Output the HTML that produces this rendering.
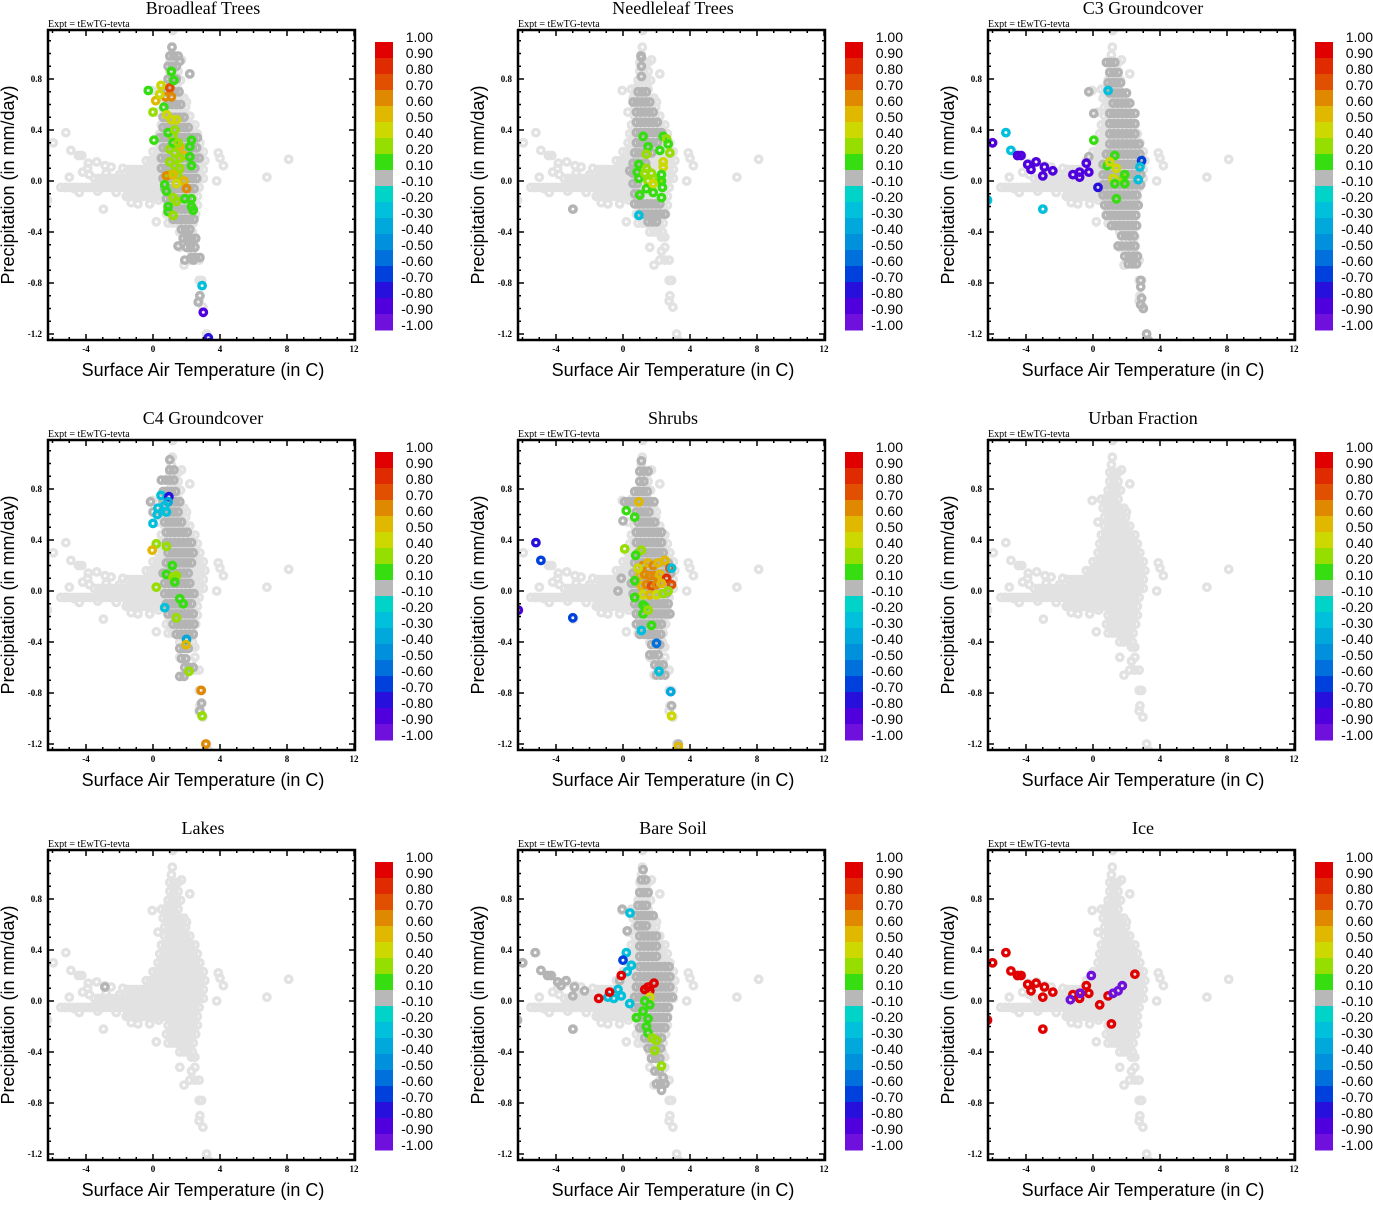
<!DOCTYPE html>
<html><head><meta charset="utf-8">
<style>
body{margin:0;background:#fff;width:1373px;height:1200px;overflow:hidden;position:relative}
svg.panel{position:absolute;overflow:visible}
.ttl{font-family:"Liberation Serif",serif;font-size:18px;text-anchor:middle}
.expt{font-family:"Liberation Serif",serif;font-size:10px}
.tk{font-family:"Liberation Serif",serif;font-size:9px;font-weight:bold}
.axt{font-family:"Liberation Sans",sans-serif;font-size:18px;text-anchor:middle}
.cbl{font-family:"Liberation Sans",sans-serif;font-size:14px;text-anchor:end}
</style></head><body>
<script>
// ---- shared axis / colour data ----
const xTicks=[-4,0,4,8,12];
const yTicks=[0.8,0.4,0.0,-0.4,-0.8,-1.2];
const cbLabels=["1.00","0.90","0.80","0.70","0.60","0.50","0.40","0.20","0.10","-0.10","-0.20","-0.30","-0.40","-0.50","-0.60","-0.70","-0.80","-0.90","-1.00"];
const cbBounds=[1,0.9,0.8,0.7,0.6,0.5,0.4,0.2,0.1,-0.1,-0.2,-0.3,-0.4,-0.5,-0.6,-0.7,-0.8,-0.9,-1.0];
const cbColors=["#e00000","#e02a00","#e05000","#e08800","#e0b800","#cdd800","#96dd00","#36dd10","#b8b8b8","#00d4c8","#00c0dc","#00a8dc","#0090dc","#0070dc","#0040dc","#2810dc","#5000dc","#7010dc"];
const titles=["Broadleaf Trees","Needleleaf Trees","C3 Groundcover","C4 Groundcover","Shrubs","Urban Fraction","Lakes","Bare Soil","Ice"];
// ---- background (light) cloud: rows [P, Tmin, Tmax] + outliers [T,P] ----
const baseRows=[[1.05,1.15,1.15],[0.99,1.1,1.1],[0.93,1.0,1.7],[0.86,1.0,1.5],[0.79,0.9,1.8],[0.72,0.5,1.6],[0.65,0.6,2.0],[0.58,0.7,2.0],[0.51,0.7,2.3],[0.44,0.5,2.6],[0.37,0.4,2.7],[0.30,0.3,2.9],[0.23,0.0,3.0],[0.16,-0.4,3.1],[0.09,-1.5,3.2],[0.02,-3.5,3.0],[-0.05,-5.5,2.8],[-0.12,-1.6,2.8],[-0.19,0.9,2.7],[-0.26,0.8,2.7],[-0.33,0.9,2.6],[-0.40,1.6,2.4]];
const basePts=[[1.17,1.18],[1.7,0.95],[2.2,0.84],[-0.05,0.71],[0.9,0.75],[2.0,0.62],[0.3,0.54],[-5.2,0.38],[-5.95,0.30],[-4.9,0.24],[-4.45,0.2],[-4.25,0.2],[-3.86,0.14],[-3.36,0.15],[-2.86,0.12],[-4.2,0.07],[-5.0,0.03],[3.9,0.22],[4.0,0.18],[4.2,0.12],[3.8,0.0],[6.8,0.03],[8.1,0.17],[-6.3,-0.15],[-2.96,-0.22],[-1.3,-0.17],[-0.9,-0.18],[-0.2,-0.18],[0.2,-0.32],[0.34,-0.15],[2.0,-0.39],[1.6,-0.52],[2.3,-0.44],[2.5,-0.44],[2.5,-0.52],[2.3,-0.55],[1.85,-0.66],[2.2,-0.62],[2.5,-0.62],[2.75,-0.62],[2.76,-0.78],[2.9,-0.78],[2.8,-0.9],[2.75,-0.94],[2.98,-0.99],[3.2,-1.2],[3.3,-1.25],[-5.25,-0.05],[-4.7,-0.06],[-3.9,0.1],[-2.5,0.11],[-1.8,0.1],[-4.4,-0.09],[-3.3,-0.08],[-2.2,-0.09],[-1.5,-0.1],[-3.8,0.05],[-2.8,0.06],[-2.0,0.05]];
// ---- per-panel dark gray rows [P,Tmin,Tmax] and points [T,P] ----
const darkRows=[
[[0.98,1.0,1.6],[0.9,0.9,1.4],[0.8,0.9,1.5],[0.7,0.8,1.7],[0.6,0.9,1.8],[0.5,0.6,2.0],[0.42,0.6,2.3],[0.34,0.4,2.7],[0.26,0.6,2.8],[0.18,0.5,2.9],[0.1,0.5,2.7],[0.02,0.6,2.6],[-0.06,0.7,2.6],[-0.14,0.8,2.5],[-0.22,0.9,2.5],[-0.3,1.2,2.5],[-0.38,1.7,2.4],[-0.45,1.8,2.6],[-0.52,2.0,2.5],[-0.6,2.3,2.8]],
[[0.97,1.1,1.1],[0.9,1.1,1.3],[0.82,1.1,1.3],[0.7,0.9,1.4],[0.62,0.6,1.7],[0.54,0.8,1.8],[0.46,0.8,2.1],[0.38,0.8,2.3],[0.3,0.8,2.1],[0.22,0.7,1.7],[0.14,0.6,1.5],[0.06,0.6,1.0],[-0.02,0.6,1.0],[-0.1,0.7,1.1],[-0.18,0.7,2.4],[-0.26,1.0,2.5],[-0.32,1.5,2.2]],
[[0.93,0.8,1.3],[0.85,1.0,1.7],[0.77,0.9,1.8],[0.69,1.0,2.2],[0.61,1.2,2.3],[0.53,1.0,2.5],[0.45,1.0,2.6],[0.37,1.0,2.7],[0.29,1.0,2.8],[0.21,0.8,2.9],[0.13,0.6,2.9],[0.05,0.6,2.9],[-0.03,0.6,2.9],[-0.11,0.6,2.8],[-0.19,0.7,2.8],[-0.27,0.8,2.7],[-0.35,1.1,2.7],[-0.43,1.7,2.6],[-0.51,1.5,2.7],[-0.59,1.9,2.7],[-0.65,2.1,2.6]],
[[1.03,1.0,1.2],[0.95,1.0,1.3],[0.87,0.5,1.3],[0.78,0.6,1.4],[0.7,0.6,1.6],[0.62,0.5,1.7],[0.54,0.7,1.9],[0.46,0.8,2.1],[0.38,0.8,2.3],[0.3,0.9,2.4],[0.22,0.8,2.3],[0.14,0.6,2.3],[0.06,0.7,2.4],[-0.02,0.7,2.5],[-0.1,0.8,2.5],[-0.18,0.9,2.6],[-0.26,1.2,2.6],[-0.34,1.4,2.5],[-0.45,1.6,2.3],[-0.53,1.7,2.1],[-0.6,1.9,2.4],[-0.67,1.6,2.0]],
[[1.02,1.1,1.3],[0.94,1.0,1.5],[0.86,1.0,1.3],[0.78,0.7,1.5],[0.7,0.1,1.9],[0.62,0.8,1.6],[0.54,0.9,2.0],[0.46,0.8,2.3],[0.38,0.8,2.5],[0.3,0.9,2.6],[0.22,0.7,2.7],[0.14,0.6,2.9],[0.06,0.5,2.8],[-0.02,0.6,2.8],[-0.1,0.7,2.8],[-0.18,0.8,2.8],[-0.26,0.8,2.5],[-0.34,1.0,2.4],[-0.42,1.7,2.2],[-0.5,1.6,2.3],[-0.58,1.9,2.4],[-0.66,2.0,2.6]],
[],
[],
[[1.03,1.2,1.3],[0.95,1.1,1.4],[0.85,1.0,1.5],[0.75,0.9,1.6],[0.67,0.8,1.9],[0.59,0.9,1.6],[0.51,1.0,2.0],[0.43,1.0,2.0],[0.35,1.0,2.2],[0.27,1.0,2.8],[0.19,0.8,2.9],[0.11,0.8,3.0],[0.03,0.7,3.0],[-0.05,0.7,2.9],[-0.13,0.9,2.8],[-0.21,1.0,2.7],[-0.29,1.3,2.5],[-0.37,1.5,2.4],[-0.45,1.7,2.4],[-0.55,1.9,2.3],[-0.65,2.0,2.5]],
[]];
const darkPts=[
[[1.13,1.05],[1.6,0.94],[2.2,0.84],[1.5,-0.51],[2.8,-0.9],[2.7,-0.95],[1.9,-0.62],[2.4,-0.62]],
[[-3.0,-0.22],[0.4,0.08],[1.07,0.98]],
[[2.85,-0.78],[2.85,-0.83],[2.9,-0.92],[2.85,-0.97],[3.0,-1.0],[3.2,-1.2],[3.3,-1.25],[-0.25,0.19],[-0.25,0.7],[0.05,0.53]],
[[2.9,-0.88],[2.8,-0.94],[-0.15,0.7],[0.0,0.62]],
[[-0.1,0.1],[-0.3,0.0],[0.0,0.55],[2.9,-0.9],[3.3,-1.2],[0.1,0.7]],
[],
[[-2.87,0.11]],
[[-5.25,0.38],[-6.0,0.3],[-4.9,0.24],[-4.5,0.2],[-4.3,0.2],[-3.9,0.15],[-3.4,0.16],[-2.9,0.11],[-2.3,0.08],[-3.0,0.04],[-3.7,0.12],[-3.0,-0.22],[-0.05,0.72],[0.25,0.55],[-0.2,0.16],[-6.3,-0.15],[2.4,-0.6],[2.3,-0.7]],
[]];
// ---- per-panel coloured points [T, P, value] ----
const colPts=[
[[-0.28,0.71,0.15],[0.48,0.75,0.45],[1.0,0.73,0.75],[0.16,0.63,0.55],[0.75,0.66,0.65],[1.1,0.66,0.65],[0.4,0.68,0.45],[0.0,0.54,0.35],[1.1,0.86,0.15],[1.25,0.79,0.15],[0.65,0.58,0.15],[0.82,0.52,0.4],[1.4,0.48,0.4],[0.06,0.32,0.15],[1.17,0.35,0.3],[1.6,0.27,0.55],[1.85,0.2,0.55],[2.3,0.32,0.15],[2.2,0.27,0.15],[2.2,0.19,0.15],[2.3,0.12,0.15],[1.0,0.25,0.3],[1.3,0.22,0.3],[1.6,0.18,0.3],[1.0,0.15,0.3],[1.3,0.12,0.3],[1.6,0.1,0.3],[1.0,0.05,0.3],[1.5,0.04,0.3],[1.2,0.3,0.15],[1.5,0.3,0.3],[0.9,0.38,0.15],[1.3,0.4,0.3],[1.1,0.48,0.4],[0.8,0.04,0.6],[1.2,0.05,0.5],[1.85,0.0,0.55],[2.0,-0.06,0.6],[1.4,-0.02,0.4],[0.8,-0.08,0.15],[0.7,-0.03,0.15],[1.2,-0.13,0.3],[1.4,-0.16,0.3],[1.9,-0.14,0.15],[2.3,-0.14,0.15],[2.3,-0.2,0.15],[2.4,-0.23,0.15],[0.9,-0.2,0.15],[0.9,-0.24,0.15],[1.2,-0.27,0.3],[2.93,-0.82,-0.25],[3.0,-1.03,-0.85],[3.3,-1.23,-0.8],[3.35,-1.27,-0.8]],
[[1.2,0.35,0.15],[1.5,0.27,0.15],[2.4,0.35,0.15],[2.6,0.33,0.3],[2.7,0.29,0.15],[2.8,0.22,0.3],[2.4,0.15,0.45],[2.4,0.11,0.45],[2.2,0.24,0.15],[1.4,0.21,0.35],[0.95,0.13,0.15],[0.85,0.07,0.15],[0.95,0.02,0.15],[1.4,0.1,0.3],[1.7,0.06,0.3],[1.3,0.06,0.3],[1.9,0.02,0.3],[2.1,0.0,0.3],[1.5,0.0,0.3],[2.3,0.05,0.15],[2.3,0.0,0.15],[2.35,-0.05,0.15],[2.3,-0.13,0.15],[1.8,-0.09,0.15],[1.4,-0.06,0.15],[1.0,-0.11,0.15],[1.8,-0.02,0.4],[0.95,-0.27,-0.25]],
[[-5.2,0.38,-0.3],[-6.0,0.3,-0.9],[-4.9,0.24,-0.3],[-4.5,0.2,-0.9],[-4.3,0.2,-0.9],[-3.9,0.13,-0.9],[-3.7,0.09,-0.9],[-3.4,0.15,-0.9],[-2.9,0.11,-0.9],[-3.0,0.04,-0.9],[-2.4,0.08,-0.9],[-1.2,0.05,-0.9],[-0.8,0.07,-0.9],[-0.8,0.03,-0.9],[-0.4,0.14,-0.9],[-0.25,0.07,-0.9],[-6.3,-0.15,-0.3],[-3.0,-0.22,-0.3],[0.05,0.32,0.15],[0.9,0.71,-0.3],[1.3,0.2,0.15],[0.85,0.12,0.15],[1.0,0.15,0.45],[1.4,0.1,0.4],[1.2,0.02,0.45],[1.8,0.02,0.3],[1.9,-0.02,0.15],[1.3,-0.02,0.15],[1.4,-0.14,0.15],[1.9,0.05,0.15],[2.9,0.16,-0.7],[2.8,0.11,-0.3],[2.7,0.01,-0.25],[0.3,-0.05,-0.8]],
[[0.48,0.75,-0.3],[0.95,0.74,-0.8],[0.9,0.7,-0.4],[0.7,0.67,-0.3],[0.3,0.65,-0.25],[0.25,0.6,-0.25],[0.8,0.62,-0.3],[0.0,0.53,-0.3],[0.2,0.37,0.3],[0.8,0.35,0.3],[-0.05,0.32,0.5],[1.15,0.2,0.15],[0.8,0.13,0.15],[1.2,0.11,0.3],[1.4,0.12,0.3],[1.3,0.07,0.15],[0.2,0.03,0.3],[1.6,-0.06,0.15],[1.8,-0.1,0.15],[1.4,-0.21,0.3],[0.7,-0.13,-0.25],[2.0,-0.38,-0.4],[1.97,-0.42,0.5],[2.15,-0.63,0.3],[2.87,-0.78,0.6],[2.93,-0.98,0.3],[3.15,-1.2,0.6]],
[[-5.2,0.38,-0.8],[-4.9,0.24,-0.7],[-6.25,-0.15,-0.85],[-3.0,-0.21,-0.7],[0.95,0.7,0.55],[0.2,0.63,0.15],[0.7,0.58,0.15],[0.1,0.33,0.35],[1.1,0.32,0.3],[0.75,0.28,0.15],[1.2,0.2,0.6],[1.5,0.22,0.55],[1.8,0.2,0.6],[2.1,0.22,0.55],[2.5,0.24,0.5],[2.8,0.18,0.7],[1.0,0.12,0.5],[1.3,0.13,0.65],[1.6,0.12,0.65],[1.9,0.12,0.6],[2.2,0.13,0.55],[2.6,0.1,0.8],[1.1,0.04,0.55],[1.4,0.05,0.65],[1.7,0.04,0.7],[2.0,0.05,0.6],[2.3,0.06,0.5],[2.9,0.05,0.75],[1.2,-0.03,0.45],[1.6,-0.03,0.5],[2.0,-0.03,0.4],[2.4,-0.02,0.35],[0.9,0.18,0.45],[0.7,0.08,0.15],[2.7,0.0,0.3],[0.7,-0.05,0.15],[1.2,-0.11,0.15],[1.3,-0.12,0.15],[1.2,-0.18,0.15],[1.7,-0.27,0.15],[1.5,-0.15,0.3],[1.1,-0.31,-0.25],[2.0,-0.41,-0.6],[2.15,-0.63,-0.3],[2.85,-0.79,-0.35],[2.9,-0.98,0.45],[3.3,-1.22,0.55],[2.9,0.18,-0.25]],
[],
[],
[[0.42,0.69,-0.25],[0.2,0.38,-0.25],[0.5,0.28,-0.25],[0.25,0.23,-0.25],[0.0,0.32,-0.7],[-0.1,0.2,0.95],[-0.3,0.09,-0.25],[-0.1,0.04,-0.25],[-0.55,0.02,-0.25],[-0.9,0.03,-0.25],[-0.8,0.07,0.95],[-1.45,0.02,0.95],[0.4,-0.02,-0.25],[1.3,0.09,0.95],[1.5,0.11,0.95],[1.85,0.14,0.95],[1.6,0.08,0.95],[1.6,0.03,0.4],[1.3,0.0,0.15],[1.6,-0.03,0.15],[1.2,-0.08,0.15],[0.8,-0.13,0.15],[1.5,-0.14,0.15],[1.4,-0.2,0.15],[1.5,-0.25,0.15],[1.75,-0.29,0.3],[2.0,-0.31,0.3],[1.9,-0.39,0.3],[2.3,-0.51,0.3]],
[[-5.2,0.38,0.95],[-6.0,0.3,0.95],[-4.9,0.235,0.95],[-4.5,0.2,0.95],[-4.3,0.2,0.95],[-3.9,0.13,0.95],[-3.7,0.08,0.95],[-3.4,0.14,0.95],[-2.9,0.11,0.95],[-3.0,0.03,0.95],[-2.4,0.07,0.95],[-1.2,0.05,0.95],[-0.8,0.06,0.95],[-0.8,0.02,0.95],[-0.4,0.12,0.95],[-0.25,0.06,0.95],[-6.3,-0.15,0.95],[-3.0,-0.22,0.95],[0.4,-0.03,0.95],[0.9,0.04,0.95],[1.1,-0.18,0.95],[2.5,0.21,0.95],[-1.35,0.01,-0.95],[-0.75,0.06,-0.95],[-0.1,0.2,-0.95],[1.2,0.06,-0.95],[1.5,0.08,-0.95],[1.75,0.12,-0.95]]
];
// ---- geometry ----
const PX0=48,PX1=355,PY0=30,PY1=340;
function sx(t){return 153+t*16.75;}
function sy(p){return 181-p*127.5;}
function colorOf(v){for(let i=0;i<cbColors.length;i++){if(v>=cbBounds[i+1])return cbColors[i];}return cbColors[cbColors.length-1];}
const NS="http://www.w3.org/2000/svg";
function mk(tag,attrs,parent){const e=document.createElementNS(NS,tag);for(const k in attrs)e.setAttribute(k,attrs[k]);if(parent)parent.appendChild(e);return e;}
function rowsToPts(rows){const out=[];rows.forEach(r=>{for(let t=r[1];t<=r[2]+1e-6;t+=0.25)out.push([t,r[0]]);});return out;}
function marker(g,t,p,col){return mk('circle',{cx:sx(t).toFixed(1),cy:sy(p).toFixed(1),r:3.2,fill:'none',stroke:col,'stroke-width':3.4},g);}

for(let k=0;k<9;k++){
  const col=k%3,row=Math.floor(k/3);
  const svg=mk('svg',{class:'panel',width:470,height:410,style:`left:${col*470}px;top:${row*410}px`},document.body);
  
  
  const cp=mk('clipPath',{id:'cp'+k},svg);mk('rect',{x:PX0,y:PY0,width:PX1-PX0,height:PY1-PY0},cp);
  const tt=mk('text',{x:203,y:14,class:'ttl'},svg);tt.textContent=titles[k];
  
  
  const ex=mk('text',{x:48,y:27,class:'expt'},svg);ex.textContent='Expt = tEwTG-tevta';
  
  
  const g=mk('g',{'clip-path':`url(#cp${k})`},svg);
  
  
  rowsToPts(baseRows).concat(basePts).forEach(q=>marker(g,q[0],q[1],'#e2e2e2'));
  rowsToPts(darkRows[k]).concat(darkPts[k]).forEach(q=>marker(g,q[0],q[1],'#b4b4b4'));
  colPts[k].forEach(q=>{const m=marker(g,q[0],q[1],colorOf(q[2]));
    
    });
  const fr=mk('rect',{x:PX0,y:PY0,width:PX1-PX0,height:PY1-PY0,fill:'none',stroke:'#000','stroke-width':2.5},svg);
  
  
  for(let t=-6;t<=12;t++){const x=sx(t);if(x<PX0||x>PX1)continue;const L=(t%4===0)?6:3;
    mk('line',{x1:x,y1:PY1,x2:x,y2:PY1-L,stroke:'#000','stroke-width':1.5},svg);
    mk('line',{x1:x,y1:PY0,x2:x,y2:PY0+L,stroke:'#000','stroke-width':1.5},svg);}
  xTicks.forEach(t=>{const tx=mk('text',{x:sx(t),y:352,class:'tk','text-anchor':'middle'},svg);tx.textContent=String(t);
    
    });
  for(let i=-12;i<=11;i++){const p=i/10,y=sy(p);if(y<PY0||y>PY1)continue;const L=(i%4===0)?6:3;
    mk('line',{x1:PX0,y1:y,x2:PX0+L,y2:y,stroke:'#000','stroke-width':1.5},svg);
    mk('line',{x1:PX1,y1:y,x2:PX1-L,y2:y,stroke:'#000','stroke-width':1.5},svg);}
  yTicks.forEach(p=>{const ty=mk('text',{x:42,y:sy(p)+3,class:'tk','text-anchor':'end'},svg);ty.textContent=p.toFixed(1);
    
    });
  const xt=mk('text',{x:203,y:376,class:'axt'},svg);xt.textContent='Surface Air Temperature (in C)';
  
  
  const yt=mk('text',{x:0,y:0,class:'axt',transform:'translate(14,185) rotate(-90)'},svg);yt.textContent='Precipitation (in mm/day)';
  
  
  const cb=mk('g',{},svg);
  
  
  cbColors.forEach((c,i)=>{const r=mk('rect',{x:375,y:42+16*i,width:18,height:16.5,fill:c},cb);
    
    });
  cbLabels.forEach((l,i)=>{const t=mk('text',{x:433,y:42+16*i,class:'cbl'},cb);t.textContent=l;
    
    });
}
</script>
</body></html>
